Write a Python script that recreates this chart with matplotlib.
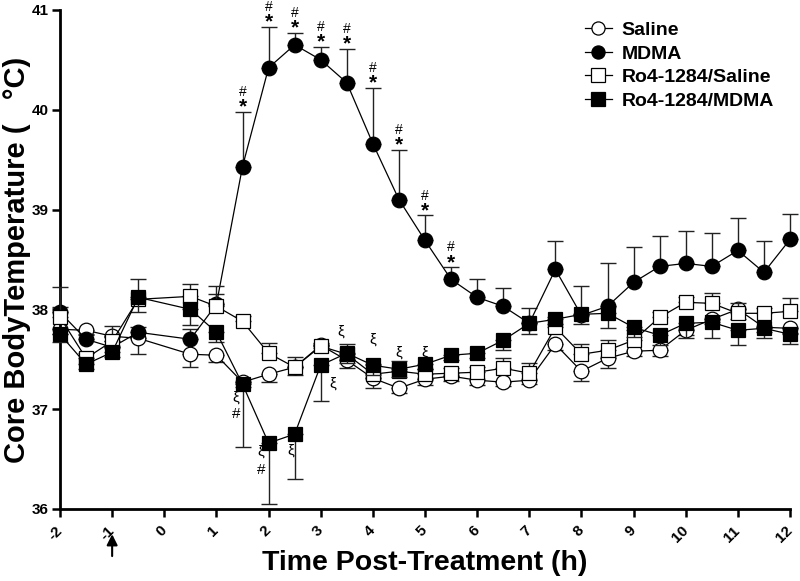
import numpy as np
import matplotlib
matplotlib.use("Agg")
import matplotlib.pyplot as plt

plt.rcParams['font.family'] = ['Liberation Sans', 'DejaVu Sans']

# time points (h); no sample at 0
times = [-2, -1.5, -1, -0.5, 0.5, 1, 1.5, 2, 2.5, 3, 3.5, 4, 4.5, 5, 5.5,
         6, 6.5, 7, 7.5, 8, 8.5, 9, 9.5, 10, 10.5, 11, 11.5, 12]

saline = [37.80, 37.79, 37.73, 37.71, 37.55, 37.54, 37.27, 37.35, 37.42, 37.64,
          37.49, 37.31, 37.21, 37.30, 37.33, 37.29, 37.27, 37.29, 37.65, 37.38,
          37.51, 37.58, 37.59, 37.79, 37.90, 38.00, 37.82, 37.81]
saline_err = [0.05, 0.05, 0.05, 0.16, 0.13, 0.07, 0.05, 0.08, 0.08, 0.03,
              0.08, 0.10, 0.05, 0.06, 0.05, 0.05, 0.04, 0.04, 0.06, 0.10,
              0.10, 0.05, 0.06, 0.05, 0.05, 0.10, 0.05, 0.05]

mdma = [37.97, 37.70, 37.62, 37.77, 37.70, 38.05, 39.43, 40.42, 40.65, 40.50,
        40.27, 39.66, 39.10, 38.69, 38.30, 38.12, 38.03, 37.86, 38.40, 37.94,
        38.03, 38.27, 38.43, 38.46, 38.43, 38.59, 38.37, 38.70]
mdma_err = [0.05, 0.05, 0.10, 0.05, 0.10, 0.10, 0.55, 0.41, 0.12, 0.13,
            0.34, 0.56, 0.50, 0.25, 0.12, 0.18, 0.18, 0.15, 0.28, 0.29,
            0.43, 0.35, 0.30, 0.32, 0.33, 0.32, 0.31, 0.25]

ro_saline = [37.92, 37.51, 37.68, 38.10, 38.13, 38.03, 37.88, 37.56, 37.42, 37.63,
             37.55, 37.35, 37.38, 37.35, 37.36, 37.37, 37.41, 37.36, 37.82, 37.55,
             37.59, 37.69, 37.92, 38.07, 38.06, 37.96, 37.96, 37.98]
ro_saline_err = [0.30, 0.05, 0.15, 0.20, 0.12, 0.20, 0.05, 0.10, 0.10, 0.03,
                 0.10, 0.10, 0.10, 0.05, 0.05, 0.05, 0.10, 0.10, 0.10, 0.10,
                 0.10, 0.10, 0.05, 0.05, 0.10, 0.10, 0.05, 0.13]

ro_mdma = [37.75, 37.45, 37.57, 38.12, 38.00, 37.77, 37.25, 36.66, 36.75, 37.44,
           37.56, 37.44, 37.40, 37.45, 37.54, 37.56, 37.69, 37.86, 37.90, 37.95,
           37.96, 37.82, 37.74, 37.86, 37.87, 37.79, 37.81, 37.75]
ro_mdma_err = [0.08, 0.05, 0.05, 0.15, 0.16, 0.10, 0.63, 0.61, 0.45, 0.36,
               0.10, 0.10, 0.08, 0.05, 0.05, 0.05, 0.10, 0.11, 0.05, 0.10,
               0.15, 0.10, 0.10, 0.15, 0.16, 0.15, 0.10, 0.10]

# MDMA vs saline (*) and vs Ro4-1284/MDMA (#)
sig_times = [1.5, 2, 2.5, 3, 3.5, 4, 4.5, 5, 5.5]

# xi / # marks near the Ro4-1284/MDMA curve: (time, temp, text)
xi_marks = [(1.37, 37.12, 'ξ'), (1.37, 36.95, '#'),
            (1.85, 36.57, 'ξ'), (1.85, 36.39, '#'),
            (2.43, 36.58, 'ξ'), (3.23, 37.26, 'ξ'),
            (3.38, 37.78, 'ξ'), (4.0, 37.70, 'ξ'),
            (4.5, 37.57, 'ξ'), (5.0, 37.57, 'ξ')]

t = np.array(times)

fig = plt.figure(figsize=(8, 5.81), dpi=100)
ax = fig.add_axes([0.075, 0.124, 0.9125, 0.859])


def draw(vals, err, up, marker, face, label, z):
    vals = np.array(vals)
    err = np.array(err)
    if up:
        yerr = [np.zeros_like(err), err]
    else:
        yerr = [err, np.zeros_like(err)]
    eb = ax.errorbar(t, vals, yerr=yerr, fmt='none', ecolor='#222222',
                     elinewidth=1, capsize=6, capthick=1, zorder=z)
    for art in eb.get_children():
        art.set_clip_on(False)
    ax.plot(t, vals, color='black', lw=0.9, marker=marker, ms=10.5,
            mfc=face, mec='black', mew=0.9, label=label, zorder=z + 0.5,
            clip_on=False)


draw(saline, saline_err, False, 'o', 'white', 'Saline', 2)
draw(mdma, mdma_err, True, 'o', 'black', 'MDMA', 3)
draw(ro_saline, ro_saline_err, True, 's', 'white', 'Ro4-1284/Saline', 4)
draw(ro_mdma, ro_mdma_err, False, 's', 'black', 'Ro4-1284/MDMA', 5)

# significance marks above MDMA error bars
for tt in sig_times:
    i = times.index(tt)
    top = mdma[i] + mdma_err[i]
    ax.text(tt, top - 0.05, '*', ha='center', va='bottom', fontsize=15,
            fontweight='bold')
    ax.text(tt, top + 0.13, '#', ha='center', va='bottom', fontsize=10)

for x, y, s in xi_marks:
    ax.text(x, y, s, ha='center', va='center', fontsize=11)

ax.set_xlim(-2, 12)
ax.set_ylim(36, 41)
ax.set_xticks(range(-2, 13))
ax.set_yticks(range(36, 42))
ax.set_xticklabels([str(v) for v in range(-2, 13)], rotation=45, ha='right',
                   va='center', rotation_mode='anchor', fontsize=11,
                   fontweight='bold')
for lab in ax.get_yticklabels():
    lab.set_fontweight('bold')
    lab.set_fontsize(11)
ax.tick_params(axis='x', length=6, width=1.8, pad=8)
ax.tick_params(axis='y', length=6, width=1.8, pad=2)

for s in ['top', 'right']:
    ax.spines[s].set_visible(False)
for s in ['left', 'bottom']:
    ax.spines[s].set_linewidth(2)

ax.set_xlabel('Time Post-Treatment (h)', fontsize=20.5, fontweight='bold')
ax.xaxis.set_label_coords(0.5, -0.082)
ax.set_ylabel('Core BodyTemperature (   °C)', fontsize=21, fontweight='bold')
ax.yaxis.set_label_coords(-0.04, 0.5)

# injection arrow under -1
ax.annotate('', xy=(-1, -0.045), xytext=(-1, -0.1),
            xycoords=('data', 'axes fraction'),
            textcoords=('data', 'axes fraction'),
            arrowprops=dict(arrowstyle='-|>', color='black', lw=1.5,
                            mutation_scale=16),
            annotation_clip=False)

leg = ax.legend(loc='upper left', bbox_to_anchor=(0.708, 0.992), frameon=False,
                fontsize=14, handlelength=1.4, handletextpad=0.5,
                labelspacing=0.3, borderaxespad=0, markerscale=0.9)
for txt in leg.get_texts():
    txt.set_fontweight('bold')

fig.savefig('out.png', dpi=100)
